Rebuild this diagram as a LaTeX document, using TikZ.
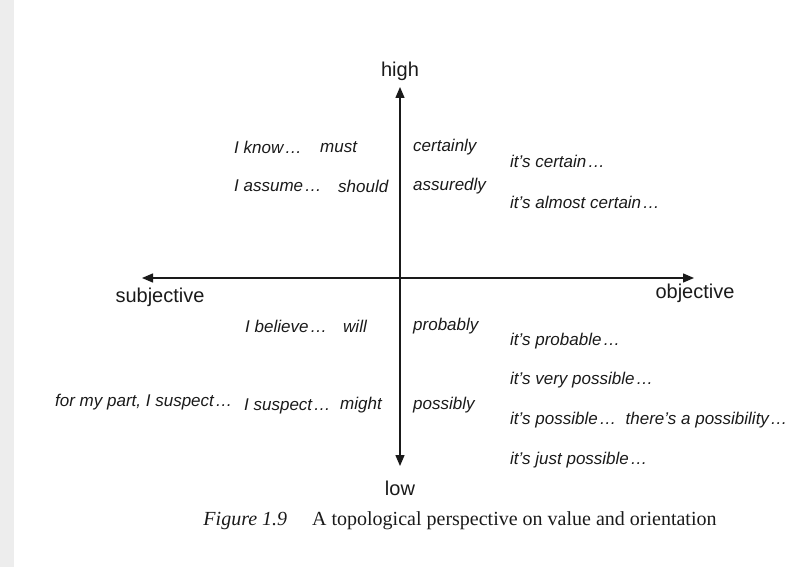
\documentclass[tikz,border=0pt]{standalone}
\usepackage{fontspec}
\setmainfont{Liberation Serif}
\setsansfont{Liberation Sans}
\usetikzlibrary{arrows.meta,positioning}
\definecolor{PageInk}{HTML}{1A1A1A}
\definecolor{PageEdge}{HTML}{EDEDED}
\newcommand{\hdots}{\kern1.5pt\ldots}
\tikzset{
  axis/.style={line width=1.4pt,draw=PageInk,{Triangle[length=11pt,width=9pt]}-{Triangle[length=11pt,width=9pt]}},
  hedge/.style={anchor=west,inner sep=0pt,text=PageInk,font=\sffamily\itshape\fontsize{17}{19}\selectfont},
  pole/.style={inner sep=0pt,text=PageInk,font=\sffamily\fontsize{20}{22}\selectfont},
  caption/.style={inner sep=0pt,text=PageInk,font=\fontsize{20}{22}\selectfont}
}
\begin{document}
\begin{tikzpicture}[x=1pt,y=-1pt]
\useasboundingbox (0,0) rectangle (793,567);
\fill[PageEdge] (0,0) rectangle (14,567);
% axes
\coordinate (north tip) at (400,87);
\coordinate (south tip) at (400,466);
\coordinate (west tip) at (142,278);
\coordinate (east tip) at (694,278);
\draw[axis] (south tip) -- (north tip);
\draw[axis] (west tip) -- (east tip);
\node[pole] (high) at (400,71) {high};
\node[pole] (low) at (400,488) {low};
\node[pole] (subjective) at (160,297) {subjective};
\node[pole] (objective) at (695,293) {objective};
% upper half
\node[hedge] (know) at (234,147) {I know\hdots};
\node[hedge] (must) at (320,147) {must};
\node[hedge] (certainly) at (413,147) {certainly};
\node[hedge] (assume) at (234,186) {I assume\hdots};
\node[hedge] (should) at (338,186) {should};
\node[hedge] (assuredly) at (413,186) {assuredly};
\node[hedge] (certain) at (510,161) {it's certain\hdots};
\node[hedge] (almost) at (510,202) {it's almost certain\hdots};
% lower half
\node[hedge] (believe) at (245,326) {I believe\hdots};
\node[hedge] (will) at (343,326) {will};
\node[hedge] (probably) at (413,326) {probably};
\node[hedge] (probable) at (510,341) {it's probable\hdots};
\node[hedge] (verypos) at (510,380) {it's very possible\hdots};
\node[hedge] (mypart) at (55,402) {for my part, I suspect\hdots};
\node[hedge] (suspect) at (244,406) {I suspect\hdots};
\node[hedge] (might) at (340,405) {might};
\node[hedge] (possibly) at (413,405) {possibly};
\node[hedge] (possible) at (510,420) {it's possible\hdots\ \ there's a possibility\hdots};
\node[hedge] (justpos) at (510,460) {it's just possible\hdots};
% caption
\node[caption] (figcap) at (460,521) {\textit{Figure 1.9}\quad\ A topological perspective on value and orientation};
\end{tikzpicture}
\end{document}
